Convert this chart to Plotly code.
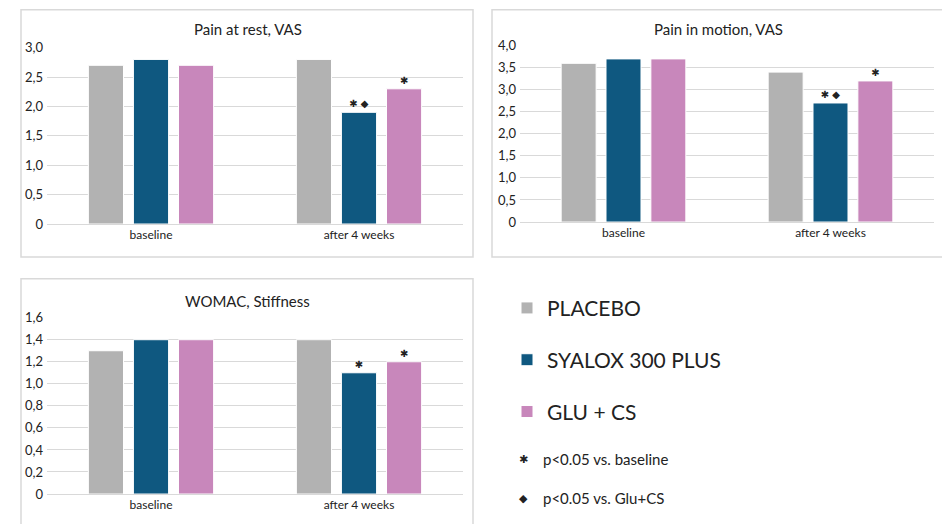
import plotly.graph_objects as go

W, H = 942, 524

categories = ["baseline", "after 4 weeks"]
series_names = ["PLACEBO", "SYALOX 300 PLUS", "GLU + CS"]
series_colors = ["#B2B2B2", "#0F5880", "#C887BB"]

# values per panel, per series
rest_placebo = [2.7, 2.8]
rest_syalox = [2.8, 1.9]
rest_glucs = [2.7, 2.3]

motion_placebo = [3.6, 3.4]
motion_syalox = [3.7, 2.7]
motion_glucs = [3.7, 3.2]

womac_placebo = [1.3, 1.4]
womac_syalox = [1.4, 1.1]
womac_glucs = [1.4, 1.2]

# significance marks above bars
rest_marks = [["", ""], ["", "✱ ◆"], ["", "✱"]]
motion_marks = [["", ""], ["", "✱ ◆"], ["", "✱"]]
womac_marks = [["", ""], ["", "✱"], ["", "✱"]]

titles = ["Pain at rest, VAS", "Pain in motion, VAS", "WOMAC, Stiffness"]
rest_ticks = [0, 0.5, 1.0, 1.5, 2.0, 2.5, 3.0]
motion_ticks = [0, 0.5, 1.0, 1.5, 2.0, 2.5, 3.0, 3.5, 4.0]
womac_ticks = [0, 0.2, 0.4, 0.6, 0.8, 1.0, 1.2, 1.4, 1.6]

footnotes = [("✱", "p<0.05 vs. baseline"), ("◆", "p<0.05 vs. Glu+CS")]

FONT = "Lato, Roboto, sans-serif"
TXT = "#222222"
GRID = "#D9D9D9"

# calibration of the vertical placement observed in the rendered page
SY, OY = 0.973, 6.2


def fmt(v):
    return "0" if v == 0 else f"{v:.1f}".replace(".", ",")


def px(x):
    return x / W


def py(y):
    return 1 - ((y - OY) / SY) / H


fig = go.Figure()

panels = [
    dict(vals=[rest_placebo, rest_syalox, rest_glucs], marks=rest_marks, ticks=rest_ticks,
         xa="x", ya="y", xdom=[47, 463], ydom=[223, 46]),
    dict(vals=[motion_placebo, motion_syalox, motion_glucs], marks=motion_marks, ticks=motion_ticks,
         xa="x2", ya="y2", xdom=[520, 934], ydom=[221, 44]),
    dict(vals=[womac_placebo, womac_syalox, womac_glucs], marks=womac_marks, ticks=womac_ticks,
         xa="x3", ya="y3", xdom=[47, 463], ydom=[494, 317]),
]

for pi, p in enumerate(panels):
    for si in range(3):
        fig.add_trace(go.Bar(
            x=categories, y=p["vals"][si], name=series_names[si],
            marker=dict(color=series_colors[si], line=dict(color="white", width=1)),
            text=p["marks"][si], textposition="outside", cliponaxis=False,
            textfont=dict(size=10, color=TXT, family="DejaVu Sans"),
            xaxis=p["xa"], yaxis=p["ya"], showlegend=(pi == 0),
            legendgroup=series_names[si], hoverinfo="x+y+name",
        ))

layout = dict(
    width=W, height=H, margin=dict(l=0, r=0, t=0, b=0),
    paper_bgcolor="white", plot_bgcolor="white",
    barmode="group", bargap=0.35, bargroupgap=0.22,
    font=dict(family=FONT, color=TXT),
    legend=dict(x=px(507), y=py(287), xanchor="left", yanchor="top",
                font=dict(size=21, color=TXT, family=FONT),
                tracegroupgap=21.5, traceorder="grouped", bgcolor="rgba(0,0,0,0)"),
    shapes=[], annotations=[],
)

for i, p in enumerate(panels):
    sfx = "" if i == 0 else str(i + 1)
    layout["xaxis" + sfx] = dict(
        domain=[px(p["xdom"][0]), px(p["xdom"][1])], anchor=p["ya"],
        showline=True, linecolor=GRID, linewidth=1, ticks="",
        tickfont=dict(size=12, color=TXT), showgrid=False, fixedrange=True,
    )
    layout["yaxis" + sfx] = dict(
        domain=[py(p["ydom"][0]), py(p["ydom"][1])], anchor=p["xa"],
        range=[0, p["ticks"][-1]], tickvals=p["ticks"], ticktext=[fmt(v) for v in p["ticks"]],
        showgrid=True, gridcolor=GRID, gridwidth=1, zeroline=False, showline=False,
        tickfont=dict(size=13, color=TXT), ticks="", ticklabelstandoff=3, fixedrange=True,
    )

# panel borders
boxes = [(21, 8, 473, 256), (492, 8, 960, 256), (21, 278, 473, 580)]
for x0, y0, x1, y1 in boxes:
    layout["shapes"].append(dict(type="rect", xref="paper", yref="paper",
                                 x0=px(x0), x1=px(x1), y0=py(y1), y1=py(y0),
                                 line=dict(color="#D9D9D9", width=1.5), layer="below"))

# titles
title_pos = [(248, 27), (718, 27), (247, 300)]
for t, (cx, cy) in zip(titles, title_pos):
    layout["annotations"].append(dict(text=t, xref="paper", yref="paper", x=px(cx), y=py(cy),
                                      xanchor="center", yanchor="middle", showarrow=False,
                                      font=dict(size=15, color=TXT, family=FONT)))

# footnotes
for k, (sym, txt) in enumerate(footnotes):
    yy = [459, 498][k]
    layout["annotations"].append(dict(text=sym, xref="paper", yref="paper", x=px(523), y=py(yy),
                                      xanchor="center", yanchor="middle", showarrow=False,
                                      font=dict(size=11, color=TXT, family="DejaVu Sans")))
    layout["annotations"].append(dict(text=txt, xref="paper", yref="paper", x=px(541), y=py(yy),
                                      xanchor="left", yanchor="middle", showarrow=False,
                                      font=dict(size=15, color=TXT, family=FONT)))

fig.update_layout(**layout)
fig.write_html(
    "out.html",
    config={"displayModeBar": False},
    post_script="document.body.style.margin='0';document.documentElement.style.overflow='hidden';",
)
